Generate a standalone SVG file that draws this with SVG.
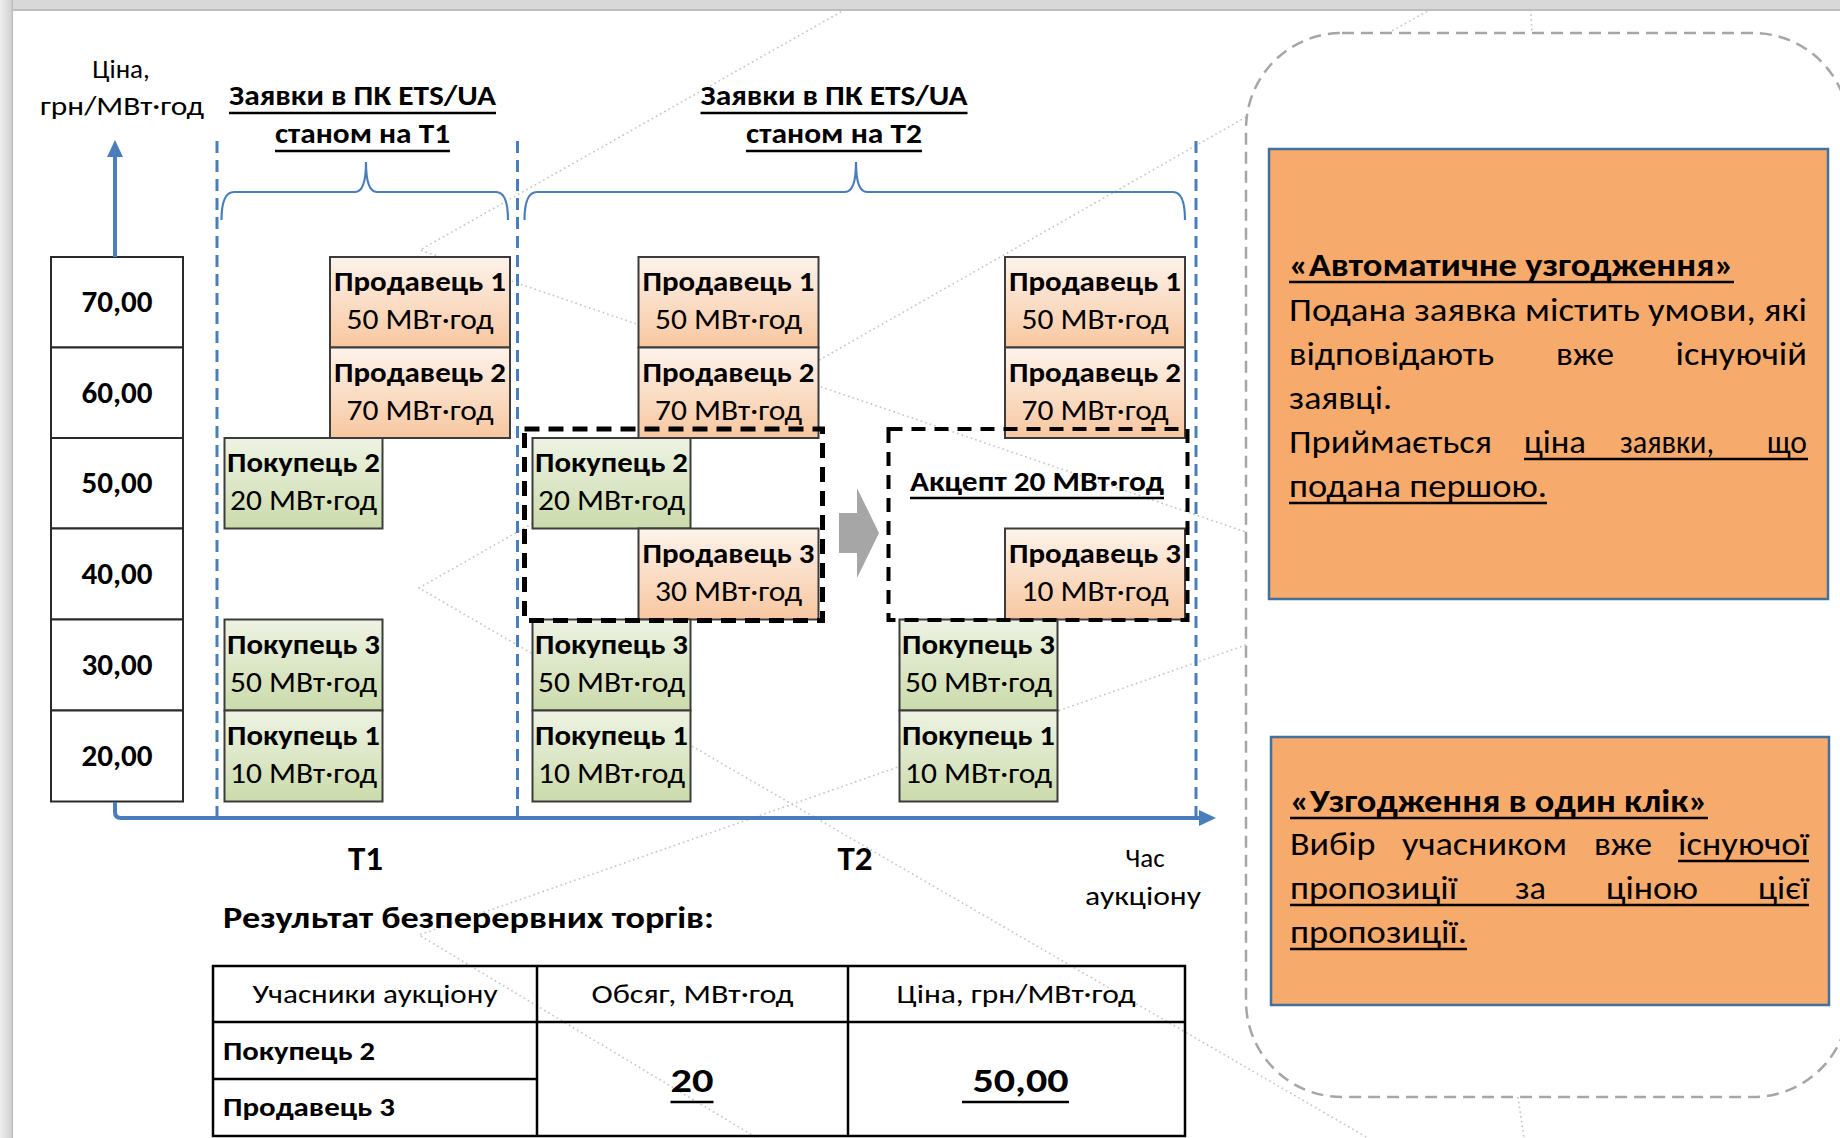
<svg xmlns="http://www.w3.org/2000/svg" width="1840" height="1138" viewBox="0 0 1840 1138">
<style>
text{font-family:Carlito,Lato,"Open Sans",sans-serif;fill:#000}
.b{font-weight:bold}
.bt{font-size:29px;text-anchor:middle}
.pl{font-size:30px;font-weight:bold;text-anchor:middle}
.sell{fill:url(#gS);stroke:#3c3c3c;stroke-width:2}
.buy{fill:url(#gB);stroke:#3c3c3c;stroke-width:2}
.pc{fill:#fff;stroke:#2a2a2a;stroke-width:2}
.ax{stroke:#4a7ebb;stroke-width:4;fill:none}
.vd{stroke:#4a7ebb;stroke-width:3;stroke-dasharray:12 7;fill:none}
.br{stroke:#4a7ebb;stroke-width:2.2;fill:none}
.ul{stroke:#000;stroke-width:2.4}
.dot{stroke:#c4c4c4;stroke-width:1.6;stroke-dasharray:1.6 3.2;fill:none}
.tb{stroke:#000;stroke-width:2.5;fill:none}
.ob{fill:#f6aa6c;stroke:#41719c;stroke-width:2.5}
.rt{font-size:33px}
</style>
<defs>
<linearGradient id="gS" x1="0" y1="0" x2="0" y2="1"><stop offset="0" stop-color="#fdf3eb"/><stop offset="1" stop-color="#f8c7a0"/></linearGradient>
<linearGradient id="gB" x1="0" y1="0" x2="0" y2="1"><stop offset="0" stop-color="#eef3e3"/><stop offset="1" stop-color="#cbdbab"/></linearGradient>
<linearGradient id="gL" x1="0" y1="0" x2="1" y2="0"><stop offset="0" stop-color="#efefef"/><stop offset="0.85" stop-color="#d2d2d2"/><stop offset="1" stop-color="#b4b4b4"/></linearGradient>
</defs>
<rect width="1840" height="1138" fill="#fff"/>
<g id="background-dots">
<path class="dot" d="M862,0 L420,250 L1246,532"/>
<path class="dot" d="M1246,117 L419,588 L1368,1138"/>
<path class="dot" d="M1246,645 L419,935 L757,1138"/>
<path class="dot" d="M1388,33 L1437,6"/>
<path class="dot" d="M1530,0 L1532,33"/>
<path class="dot" d="M1518,1097 L1524,1138"/>
</g>
<g id="frame">
<rect x="0" y="0" width="1840" height="11" fill="#d8d8d8"/>
<line x1="13" y1="10" x2="1840" y2="10" stroke="#bdbdbd" stroke-width="2"/>
<rect x="0" y="0" width="13" height="1138" fill="url(#gL)"/>
</g>
<g id="panel-frame">
<rect x="1246" y="33" width="603" height="1064" rx="96" ry="96" fill="none" stroke="#a6a6a6" stroke-width="2.5" stroke-dasharray="12 7"/>
</g>
<g id="axis-label">
<text x="121" y="78" font-size="27" text-anchor="middle">Ціна,</text>
<text x="122" y="115" font-size="27" text-anchor="middle" textLength="164" lengthAdjust="spacingAndGlyphs">грн/МВт·год</text>
</g>
<g id="price-scale">
<rect class="pc" x="51" y="257" width="132" height="90.5"/>
<rect class="pc" x="51" y="347.5" width="132" height="90.5"/>
<rect class="pc" x="51" y="438" width="132" height="90.5"/>
<rect class="pc" x="51" y="528.5" width="132" height="91"/>
<rect class="pc" x="51" y="619.5" width="132" height="91"/>
<rect class="pc" x="51" y="710.5" width="132" height="91"/>
<text class="pl" x="117" y="312" textLength="71" lengthAdjust="spacingAndGlyphs">70,00</text>
<text class="pl" x="117" y="403" textLength="71" lengthAdjust="spacingAndGlyphs">60,00</text>
<text class="pl" x="117" y="493" textLength="71" lengthAdjust="spacingAndGlyphs">50,00</text>
<text class="pl" x="117" y="584" textLength="71" lengthAdjust="spacingAndGlyphs">40,00</text>
<text class="pl" x="117" y="675" textLength="71" lengthAdjust="spacingAndGlyphs">30,00</text>
<text class="pl" x="117" y="766" textLength="71" lengthAdjust="spacingAndGlyphs">20,00</text>
</g>
<g id="connectors">
<line class="ax" x1="115" y1="257" x2="115" y2="154"/>
<polygon points="115,140 107,157 123,157" fill="#4a7ebb"/>
<path class="ax" d="M115,802 L115,812 Q115,818 121,818 L1201,818"/>
<polygon points="1216,818 1199,810 1199,826" fill="#4a7ebb"/>
<line class="vd" x1="217" y1="141" x2="217" y2="818"/>
<line class="vd" x1="517.5" y1="141" x2="517.5" y2="818"/>
<line class="vd" x1="1196" y1="141" x2="1196" y2="818"/>
<path class="br" d="M221.5,220 Q221.5,192 234,192 L355,192 Q366,192 366,162 Q366,192 377,192 L496,192 Q508,192 508,220"/>
<path class="br" d="M524.5,220 Q524.5,192 537,192 L845,192 Q856,192 856,162 Q856,192 867,192 L1173,192 Q1185,192 1185,220"/>
<polygon id="step-arrow" points="839,513 857,513 857,488 879,533 857,578 857,553 839,553" fill="#a6a6a6"/>
</g>
<g id="header-t1">
<text class="b" x="362.5" y="105" font-size="29" text-anchor="middle" textLength="267" lengthAdjust="spacingAndGlyphs">Заявки в ПК ETS/UA</text>
<text class="b" x="362.5" y="143" font-size="29" text-anchor="middle" textLength="175" lengthAdjust="spacingAndGlyphs">станом на Т1</text>
<line class="ul" x1="229" y1="113" x2="496" y2="113"/>
<line class="ul" x1="275" y1="151" x2="450" y2="151"/>
</g>
<g id="header-t2">
<text class="b" x="834" y="105" font-size="29" text-anchor="middle" textLength="267" lengthAdjust="spacingAndGlyphs">Заявки в ПК ETS/UA</text>
<text class="b" x="834" y="143" font-size="29" text-anchor="middle" textLength="176" lengthAdjust="spacingAndGlyphs">станом на Т2</text>
<line class="ul" x1="700.5" y1="113" x2="967.5" y2="113"/>
<line class="ul" x1="746" y1="151" x2="922" y2="151"/>
</g>
<g id="t1-seller1"><rect class="sell" x="330" y="257" width="180" height="90.5"/><text class="bt b" x="420" y="291" textLength="172" lengthAdjust="spacingAndGlyphs">Продавець 1</text><text class="bt" x="420" y="329" textLength="147" lengthAdjust="spacingAndGlyphs">50 МВт·год</text></g>
<g id="t1-seller2"><rect class="sell" x="330" y="347.5" width="180" height="90.5"/><text class="bt b" x="420" y="381.5" textLength="172" lengthAdjust="spacingAndGlyphs">Продавець 2</text><text class="bt" x="420" y="419.5" textLength="147" lengthAdjust="spacingAndGlyphs">70 МВт·год</text></g>
<g id="t1-buyer2"><rect class="buy" x="224.5" y="438" width="158" height="90.5"/><text class="bt b" x="303.5" y="472" textLength="153" lengthAdjust="spacingAndGlyphs">Покупець 2</text><text class="bt" x="303.5" y="510" textLength="147" lengthAdjust="spacingAndGlyphs">20 МВт·год</text></g>
<g id="t1-buyer3"><rect class="buy" x="224.5" y="619.5" width="158" height="91"/><text class="bt b" x="303.5" y="653.5" textLength="153" lengthAdjust="spacingAndGlyphs">Покупець 3</text><text class="bt" x="303.5" y="691.5" textLength="147" lengthAdjust="spacingAndGlyphs">50 МВт·год</text></g>
<g id="t1-buyer1"><rect class="buy" x="224.5" y="710.5" width="158" height="91"/><text class="bt b" x="303.5" y="744.5" textLength="153" lengthAdjust="spacingAndGlyphs">Покупець 1</text><text class="bt" x="303.5" y="782.5" textLength="147" lengthAdjust="spacingAndGlyphs">10 МВт·год</text></g>
<g id="t2a-seller1"><rect class="sell" x="638.5" y="257" width="180" height="90.5"/><text class="bt b" x="728.5" y="291" textLength="172" lengthAdjust="spacingAndGlyphs">Продавець 1</text><text class="bt" x="728.5" y="329" textLength="147" lengthAdjust="spacingAndGlyphs">50 МВт·год</text></g>
<g id="t2a-seller2"><rect class="sell" x="638.5" y="347.5" width="180" height="90.5"/><text class="bt b" x="728.5" y="381.5" textLength="172" lengthAdjust="spacingAndGlyphs">Продавець 2</text><text class="bt" x="728.5" y="419.5" textLength="147" lengthAdjust="spacingAndGlyphs">70 МВт·год</text></g>
<g id="t2a-buyer2"><rect class="buy" x="532.5" y="438" width="158" height="90.5"/><text class="bt b" x="611.5" y="472" textLength="153" lengthAdjust="spacingAndGlyphs">Покупець 2</text><text class="bt" x="611.5" y="510" textLength="147" lengthAdjust="spacingAndGlyphs">20 МВт·год</text></g>
<g id="t2a-seller3"><rect class="sell" x="638.5" y="528.5" width="180" height="91"/><text class="bt b" x="728.5" y="562.5" textLength="172" lengthAdjust="spacingAndGlyphs">Продавець 3</text><text class="bt" x="728.5" y="600.5" textLength="147" lengthAdjust="spacingAndGlyphs">30 МВт·год</text></g>
<g id="t2a-buyer3"><rect class="buy" x="532.5" y="619.5" width="158" height="91"/><text class="bt b" x="611.5" y="653.5" textLength="153" lengthAdjust="spacingAndGlyphs">Покупець 3</text><text class="bt" x="611.5" y="691.5" textLength="147" lengthAdjust="spacingAndGlyphs">50 МВт·год</text></g>
<g id="t2a-buyer1"><rect class="buy" x="532.5" y="710.5" width="158" height="91"/><text class="bt b" x="611.5" y="744.5" textLength="153" lengthAdjust="spacingAndGlyphs">Покупець 1</text><text class="bt" x="611.5" y="782.5" textLength="147" lengthAdjust="spacingAndGlyphs">10 МВт·год</text></g>
<g id="t2b-seller1"><rect class="sell" x="1005" y="257" width="180" height="90.5"/><text class="bt b" x="1095" y="291" textLength="172" lengthAdjust="spacingAndGlyphs">Продавець 1</text><text class="bt" x="1095" y="329" textLength="147" lengthAdjust="spacingAndGlyphs">50 МВт·год</text></g>
<g id="t2b-seller2"><rect class="sell" x="1005" y="347.5" width="180" height="90.5"/><text class="bt b" x="1095" y="381.5" textLength="172" lengthAdjust="spacingAndGlyphs">Продавець 2</text><text class="bt" x="1095" y="419.5" textLength="147" lengthAdjust="spacingAndGlyphs">70 МВт·год</text></g>
<g id="t2b-seller3"><rect class="sell" x="1005" y="528.5" width="180" height="91"/><text class="bt b" x="1095" y="562.5" textLength="172" lengthAdjust="spacingAndGlyphs">Продавець 3</text><text class="bt" x="1095" y="600.5" textLength="147" lengthAdjust="spacingAndGlyphs">10 МВт·год</text></g>
<g id="t2b-buyer3"><rect class="buy" x="899.5" y="619.5" width="158" height="91"/><text class="bt b" x="978.5" y="653.5" textLength="153" lengthAdjust="spacingAndGlyphs">Покупець 3</text><text class="bt" x="978.5" y="691.5" textLength="147" lengthAdjust="spacingAndGlyphs">50 МВт·год</text></g>
<g id="t2b-buyer1"><rect class="buy" x="899.5" y="710.5" width="158" height="91"/><text class="bt b" x="978.5" y="744.5" textLength="153" lengthAdjust="spacingAndGlyphs">Покупець 1</text><text class="bt" x="978.5" y="782.5" textLength="147" lengthAdjust="spacingAndGlyphs">10 МВт·год</text></g>
<g id="match-box-before"><rect x="524.5" y="429" width="298" height="191.5" fill="none" stroke="#000" stroke-width="5" stroke-dasharray="15 9"/></g>
<g id="match-box-after">
<rect x="888.5" y="429" width="299" height="191" fill="none" stroke="#000" stroke-width="4" stroke-dasharray="14 9"/>
<text class="b" x="1037" y="491" font-size="29" text-anchor="middle" textLength="254" lengthAdjust="spacingAndGlyphs">Акцепт 20 МВт·год</text>
<line class="ul" x1="910" y1="498" x2="1164" y2="498"/>
</g>
<g id="time-labels">
<text class="b" x="365.5" y="870" font-size="35" text-anchor="middle">T1</text>
<text class="b" x="855" y="870" font-size="35" text-anchor="middle">T2</text>
<text x="1145" y="867" font-size="27" text-anchor="middle">Час</text>
<text x="1143" y="905" font-size="27" text-anchor="middle" textLength="116" lengthAdjust="spacingAndGlyphs">аукціону</text>
</g>
<g id="results">
<text class="b" x="223" y="928" font-size="31" textLength="491" lengthAdjust="spacingAndGlyphs">Результат безперервних торгів:</text>
<rect class="tb" x="213" y="966" width="972" height="170"/>
<line class="tb" x1="213" y1="1022" x2="1185" y2="1022"/>
<line class="tb" x1="537" y1="966" x2="537" y2="1136"/>
<line class="tb" x1="848" y1="966" x2="848" y2="1136"/>
<line class="tb" x1="213" y1="1079" x2="537" y2="1079"/>
<text x="375" y="1003" font-size="27" text-anchor="middle" textLength="245" lengthAdjust="spacingAndGlyphs">Учасники аукціону</text>
<text x="692.5" y="1003" font-size="27" text-anchor="middle" textLength="202" lengthAdjust="spacingAndGlyphs">Обсяг, МВт·год</text>
<text x="1016" y="1003" font-size="27" text-anchor="middle" textLength="239" lengthAdjust="spacingAndGlyphs">Ціна, грн/МВт·год</text>
<text class="b" x="223" y="1060" font-size="27" textLength="152" lengthAdjust="spacingAndGlyphs">Покупець 2</text>
<text class="b" x="223" y="1116" font-size="27" textLength="172" lengthAdjust="spacingAndGlyphs">Продавець 3</text>
<text class="b" x="692" y="1092" font-size="35" text-anchor="middle" textLength="43" lengthAdjust="spacingAndGlyphs">20</text>
<line class="ul" x1="670.5" y1="1102" x2="713.5" y2="1102"/>
<text class="b" x="1020.5" y="1092" font-size="35" text-anchor="middle" textLength="96" lengthAdjust="spacingAndGlyphs">50,00</text>
<line class="ul" x1="962" y1="1102" x2="1069" y2="1102"/>
</g>
<g id="auto-match">
<rect class="ob" x="1269" y="149" width="559" height="450"/>
<text class="b rt" x="1289" y="276" textLength="445" lengthAdjust="spacingAndGlyphs">«Автоматичне узгодження»</text>
<line class="ul" x1="1289" y1="282" x2="1734" y2="282"/>
<text class="rt" x="1289" y="321" textLength="518" lengthAdjust="spacingAndGlyphs">Подана заявка містить умови, які</text>
<text class="rt" x="1289" y="365" textLength="205" lengthAdjust="spacingAndGlyphs">відповідають</text>
<text class="rt" x="1556" y="365" textLength="58" lengthAdjust="spacingAndGlyphs">вже</text>
<text class="rt" x="1675.5" y="365" textLength="131.5" lengthAdjust="spacingAndGlyphs">існуючій</text>
<text class="rt" x="1289" y="409" textLength="103" lengthAdjust="spacingAndGlyphs">заявці.</text>
<text class="rt" x="1289" y="453" textLength="203" lengthAdjust="spacingAndGlyphs">Приймається</text>
<text class="rt" x="1524" y="453" textLength="62" lengthAdjust="spacingAndGlyphs">ціна</text>
<text class="rt" x="1620" y="453" textLength="94" lengthAdjust="spacingAndGlyphs">заявки,</text>
<text class="rt" x="1767" y="453" textLength="40" lengthAdjust="spacingAndGlyphs">що</text>
<line class="ul" x1="1524" y1="459" x2="1808" y2="459"/>
<text class="rt" x="1289" y="497" textLength="258" lengthAdjust="spacingAndGlyphs">подана першою.</text>
<line class="ul" x1="1289" y1="503" x2="1547" y2="503"/>
</g>
<g id="one-click">
<rect class="ob" x="1271" y="737" width="558" height="268"/>
<text class="b rt" x="1290" y="812" textLength="418" lengthAdjust="spacingAndGlyphs">«Узгодження в один клік»</text>
<line class="ul" x1="1290" y1="818" x2="1708" y2="818"/>
<text class="rt" x="1290" y="855" textLength="85.5" lengthAdjust="spacingAndGlyphs">Вибір</text>
<text class="rt" x="1402" y="855" textLength="165" lengthAdjust="spacingAndGlyphs">учасником</text>
<text class="rt" x="1594" y="855" textLength="58" lengthAdjust="spacingAndGlyphs">вже</text>
<text class="rt" x="1678" y="855" textLength="131" lengthAdjust="spacingAndGlyphs">існуючої</text>
<line class="ul" x1="1678" y1="861" x2="1809" y2="861"/>
<text class="rt" x="1290" y="899" textLength="167" lengthAdjust="spacingAndGlyphs">пропозиції</text>
<text class="rt" x="1515" y="899" textLength="31" lengthAdjust="spacingAndGlyphs">за</text>
<text class="rt" x="1606" y="899" textLength="92" lengthAdjust="spacingAndGlyphs">ціною</text>
<text class="rt" x="1758" y="899" textLength="51" lengthAdjust="spacingAndGlyphs">цієї</text>
<line class="ul" x1="1290" y1="905" x2="1809" y2="905"/>
<text class="rt" x="1290" y="943" textLength="177" lengthAdjust="spacingAndGlyphs">пропозиції.</text>
<line class="ul" x1="1290" y1="949" x2="1467" y2="949"/>
</g>
</svg>
